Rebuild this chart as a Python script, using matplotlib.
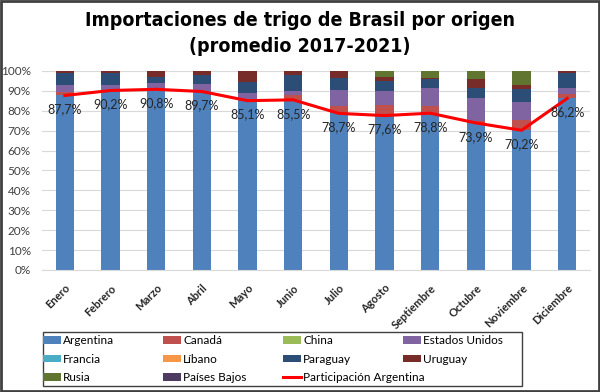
import matplotlib
matplotlib.use('Agg')
import matplotlib.pyplot as plt
from matplotlib.patches import Patch, Rectangle
from matplotlib.lines import Line2D

# --------------------------------------------------------------------------
# DATA (share of imports, %)
# --------------------------------------------------------------------------
months = ['Enero', 'Febrero', 'Marzo', 'Abril', 'Mayo', 'Junio', 'Julio',
          'Agosto', 'Septiembre', 'Octubre', 'Noviembre', 'Diciembre']

argentina = [87.7, 90.2, 90.8, 89.7, 85.1, 85.5, 78.7, 77.6, 78.8, 73.9, 70.2, 86.2]
canada = [1.7, 0.0, 0.0, 0.0, 0.0, 2.3, 3.8, 5.3, 3.8, 1.2, 5.2, 2.2]
china = [0.0, 0.0, 0.0, 0.0, 0.0, 0.0, 0.0, 0.0, 0.0, 0.0, 0.0, 0.0]
estados_unidos = [3.4, 2.9, 3.0, 3.8, 3.9, 2.3, 8.0, 7.2, 8.7, 11.2, 9.2, 2.9]
francia = [0.0, 0.0, 0.0, 0.0, 0.0, 0.0, 0.0, 0.0, 0.0, 0.0, 0.0, 0.0]
libano = [0.0, 0.0, 0.0, 0.0, 0.0, 0.0, 0.0, 0.0, 0.0, 0.0, 0.0, 0.0]
paraguay = [6.3, 5.9, 3.0, 4.3, 5.6, 7.9, 5.8, 5.0, 4.7, 5.2, 6.4, 7.5]
uruguay = [0.9, 1.0, 3.2, 2.2, 5.4, 2.0, 3.7, 1.7, 0.6, 4.5, 2.1, 1.2]
rusia = [0.0, 0.0, 0.0, 0.0, 0.0, 0.0, 0.0, 3.2, 3.4, 4.0, 6.9, 0.0]
paises_bajos = [0.0, 0.0, 0.0, 0.0, 0.0, 0.0, 0.0, 0.0, 0.0, 0.0, 0.0, 0.0]

participacion = argentina

series = [
    ('Argentina', argentina, '#4F81BD'),
    ('Canadá', canada, '#C0504D'),
    ('China', china, '#9BBB59'),
    ('Estados Unidos', estados_unidos, '#8064A2'),
    ('Francia', francia, '#4BACC6'),
    ('Líbano', libano, '#F79646'),
    ('Paraguay', paraguay, '#2C4D75'),
    ('Uruguay', uruguay, '#772C2A'),
    ('Rusia', rusia, '#5F7530'),
    ('Países Bajos', paises_bajos, '#4D3B62'),
]

# --------------------------------------------------------------------------
# PLOT
# --------------------------------------------------------------------------
plt.rcParams['font.family'] = ['Lato', 'DejaVu Sans']

fig = plt.figure(figsize=(6, 3.92), dpi=100)
ax = fig.add_axes([42 / 600, 122 / 392, 548 / 600, 199 / 392])

x = list(range(len(months)))
bottom = [0.0] * len(months)
for name, vals, color in series:
    ax.bar(x, vals, width=0.4, bottom=bottom, color=color, zorder=2)
    bottom = [b + v for b, v in zip(bottom, vals)]

ax.plot(x, participacion, color='#FF0000', lw=2.2, zorder=3)
for xi, v in zip(x, participacion):
    ax.annotate(f'{v:.1f}%'.replace('.', ','), (xi, v), xytext=(0, -10),
                textcoords='offset points', ha='center', va='center',
                fontsize=9, color='#262626', zorder=4)

ax.set_xlim(-0.5, len(months) - 0.5)
ax.set_ylim(0, 100)
ax.set_yticks(range(0, 101, 10))
ax.set_yticklabels([f'{t}%' for t in range(0, 101, 10)], fontsize=8.5, color='#404040')
ax.set_xticks(x)
ax.set_xticklabels(months, rotation=45, ha='right', rotation_mode='anchor',
                   fontsize=8, fontweight='bold', color='#262626')
ax.tick_params(axis='y', length=0, pad=8)
ax.tick_params(axis='x', length=0, pad=9)
ax.grid(axis='y', color='#D9D9D9', lw=0.8, zorder=0)
for s in ['left', 'right', 'top']:
    ax.spines[s].set_visible(False)
ax.spines['bottom'].set_color('#D9D9D9')

title_font = dict(ha='center', va='center', fontsize=14, fontweight='bold',
                  fontstretch='condensed', family=['DejaVu Sans'])
fig.text(0.5, 371 / 392, 'Importaciones de trigo de Brasil por origen', **title_font)
fig.text(0.5, 345 / 392, '(promedio 2017-2021)', **title_font)

# legend: one legend per column so the columns are evenly spaced
h = {name: Patch(facecolor=color) for name, vals, color in series}
h['Participación Argentina'] = Line2D([], [], color='#FF0000', lw=2.2)
columns = [
    ['Argentina', 'Francia', 'Rusia'],
    ['Canadá', 'Líbano', 'Países Bajos'],
    ['China', 'Paraguay', 'Participación Argentina'],
    ['Estados Unidos', 'Uruguay'],
]
col_x = [43, 163, 283, 403]
for cx, names in zip(col_x, columns):
    fig.legend([h[n] for n in names], names, loc='upper left',
               bbox_to_anchor=(cx / 600, 57 / 392), fontsize=8.5, frameon=False,
               handlelength=1.5, handleheight=0.6, handletextpad=0.2,
               borderaxespad=0, borderpad=0, labelspacing=0.65)

fig.patches.append(Rectangle((43 / 600, 6 / 392), 479 / 600, 54 / 392,
                             transform=fig.transFigure, fill=False,
                             edgecolor='#404040', lw=1))
fig.patches.append(Rectangle((0.002, 0.003), 0.996, 0.994, transform=fig.transFigure,
                             fill=False, edgecolor='#404040', lw=2))

fig.savefig('out.png', dpi=100)
